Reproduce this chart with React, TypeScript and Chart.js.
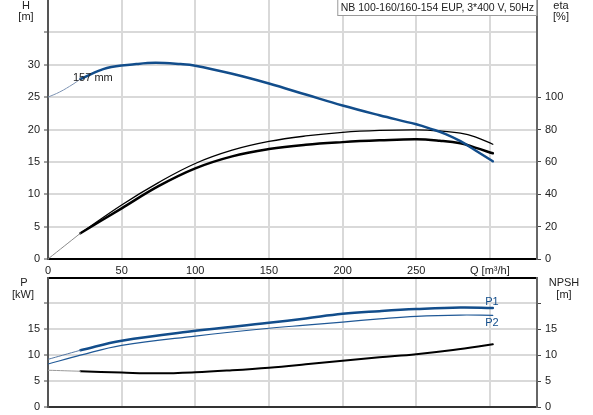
import React, { useEffect, useRef } from 'react';
import { Chart, registerables } from 'chart.js';
Chart.register(...registerables);

// ---- Top chart data (Q in m³/h) ----
const Q_H_START = [0, 8, 17, 22];
const H_START = [25, 25.8, 27.0, 27.8];
const Q_H = [22, 40, 60, 73, 90, 100, 125, 150, 175, 200, 225, 250, 260, 270, 280, 290, 302];
const H_VALUES = [27.8, 29.5, 30.1, 30.3, 30.1, 29.85, 28.6, 27.1, 25.4, 23.7, 22.2, 20.8, 20.1, 19.3, 18.2, 16.8, 15.1];

const Q_ETA_START = [0, 22];
const ETA_START = [0, 15.9];
const Q_ETA = [22, 50, 75, 100, 125, 150, 175, 200, 225, 250, 266, 280, 290, 302];
const ETA_UPPER = [15.9, 33.4, 47.2, 59, 67.2, 72.6, 76.0, 78.2, 79.4, 79.8, 79.1, 77.7, 75.4, 70.9];
const ETA_LOWER = [15.9, 31.3, 45, 56, 63.4, 67.9, 70.6, 72.2, 73.3, 74, 73.1, 71.5, 68.8, 65.3];

// ---- Bottom chart data ----
const Q_P1_START = [0, 10, 22];
const P1_START = [9.2, 10.0, 10.96];
const Q_P1 = [22, 50, 100, 150, 175, 200, 225, 250, 280, 302];
const P1_VALUES = [10.96, 12.8, 14.7, 16.25, 17.1, 18.0, 18.5, 18.9, 19.2, 19.1];
const Q_P2 = [0, 22, 50, 100, 150, 175, 200, 225, 250, 280, 302];
const P2_VALUES = [8.3, 10.0, 11.9, 13.7, 15.2, 15.8, 16.4, 17.0, 17.5, 17.75, 17.7];
const Q_NPSH_START = [0, 22];
const NPSH_START = [7.1, 6.9];
const Q_NPSH = [22, 50, 75, 100, 125, 150, 175, 200, 225, 250, 275, 302];
const NPSH_VALUES = [6.9, 6.65, 6.5, 6.7, 7.1, 7.6, 8.25, 8.95, 9.6, 10.2, 11.0, 12.1];

const X_MAX = 332;
const X_STEP = 50;
const Q_TITLE = 'Q [m³/h]';
const LEGEND_TEXT = 'NB 100-160/160-154 EUP, 3*400 V, 50Hz';
const CURVE_LABEL = '157 mm';

const FONT = '"Liberation Sans", Arial, sans-serif';
const TEXT = '#222';
const GRID = '#d9d9d9';
const BLUE = '#124d8b';
const BLUE_LIGHT = '#7d93b3';

const pts = (xs: number[], ys: number[]) => xs.map((x, i) => ({ x, y: ys[i] }));

const line = (data: any, color: string, width: number, yAxisID = 'y') => ({
  data,
  borderColor: color,
  borderWidth: width,
  pointRadius: 0,
  fill: false,
  tension: 0.4,
  yAxisID,
  borderCapStyle: 'round',
  borderJoinStyle: 'round',
});

const noPad = (s: any) => {
  s.paddingTop = 0;
  s.paddingBottom = 0;
  s.paddingLeft = 0;
  s.paddingRight = 0;
};

export default function App() {
  const topRef = useRef<HTMLCanvasElement>(null);
  const botRef = useRef<HTMLCanvasElement>(null);

  useEffect(() => {
    Chart.defaults.font.family = FONT;
    Chart.defaults.font.size = 11;
    Chart.defaults.color = TEXT;

    const topText = {
      id: 'topText',
      afterDraw(chart: any) {
        const ctx = chart.ctx;
        ctx.save();
        ctx.font = `11px ${FONT}`;
        ctx.fillStyle = TEXT;
        ctx.textBaseline = 'middle';
        ctx.textAlign = 'center';
        ctx.fillText('H', 26, 6);
        ctx.fillText('[m]', 26, 17);
        ctx.fillText('eta', 561, 6);
        ctx.fillText('[%]', 561, 17);
        ctx.textAlign = 'left';
        ctx.fillText(CURVE_LABEL, 73, 78);
        ctx.font = `10.5px ${FONT}`;
        const right = chart.chartArea.right - 0.5;
        const w = ctx.measureText(LEGEND_TEXT).width + 6;
        ctx.fillStyle = '#fff';
        ctx.fillRect(right - w, 0, w, 16);
        ctx.strokeStyle = '#9a9a9a';
        ctx.lineWidth = 1;
        ctx.strokeRect(right - w + 0.5, -0.5, w, 16);
        ctx.fillStyle = TEXT;
        ctx.fillText(LEGEND_TEXT, right - w + 3.5, 8);
        ctx.restore();
      },
    };

    const botText = {
      id: 'botText',
      afterDraw(chart: any) {
        const ctx = chart.ctx;
        ctx.save();
        ctx.font = `11px ${FONT}`;
        ctx.fillStyle = TEXT;
        ctx.textBaseline = 'middle';
        ctx.textAlign = 'center';
        ctx.fillText('P', 24, 13);
        ctx.fillText('[kW]', 23, 25);
        ctx.fillText('NPSH', 564, 13);
        ctx.fillText('[m]', 564, 25);
        ctx.fillStyle = BLUE;
        ctx.fillText('P1', 492, 32);
        ctx.fillText('P2', 492, 53);
        ctx.restore();
      },
    };

    const top = new Chart(topRef.current!, {
      type: 'line',
      data: {
        datasets: [
          line(pts(Q_H_START, H_START), BLUE_LIGHT, 1),
          line(pts(Q_H, H_VALUES), BLUE, 2.5),
          line(pts(Q_ETA_START, ETA_START), '#8a8a8a', 1, 'y2'),
          line(pts(Q_ETA, ETA_UPPER), '#000', 1.3, 'y2'),
          line(pts(Q_ETA, ETA_LOWER), '#000', 2.5, 'y2'),
        ] as any,
      },
      options: {
        responsive: false,
        animation: false,
        layout: { padding: 0 },
        plugins: { legend: { display: false }, tooltip: { enabled: false } },
        scales: {
          x: {
            type: 'linear',
            min: 0,
            max: X_MAX,
            grid: { color: GRID, lineWidth: 2, drawTicks: false },
            border: { color: '#000', width: 2 },
            ticks: {
              stepSize: X_STEP,
              includeBounds: false,
              padding: 5,
              maxRotation: 0,
              autoSkip: false,
              callback: (v: any) => (v === 300 ? Q_TITLE : String(v)),
            },
            afterFit: (s: any) => { s.height = 21; noPad(s); },
          },
          y: {
            type: 'linear',
            position: 'left',
            min: 0,
            max: 40,
            grid: { color: GRID, lineWidth: 2, tickColor: '#444', tickLength: 4, tickWidth: 1 },
            border: { color: '#555', width: 2 },
            ticks: {
              stepSize: 5,
              padding: 4,
              callback: (v: any) => (v <= 30 ? String(v) : ''),
            },
            afterBuildTicks: (s: any) => { s.ticks = s.ticks.filter((t: any) => t.value <= 35); },
            afterFit: (s: any) => { s.width = 48; noPad(s); },
          },
          y2: {
            type: 'linear',
            position: 'right',
            min: 0,
            max: 160,
            grid: { drawOnChartArea: false, tickColor: '#444', tickLength: 4, tickWidth: 1 },
            border: { color: '#666', width: 2 },
            ticks: { stepSize: 20, padding: 4 },
            afterBuildTicks: (s: any) => { s.ticks = s.ticks.filter((t: any) => t.value <= 100); },
            afterFit: (s: any) => { s.width = 56; noPad(s); },
          },
        },
      } as any,
      plugins: [topText],
    });

    const bot = new Chart(botRef.current!, {
      type: 'line',
      data: {
        datasets: [
          line(pts(Q_P1_START, P1_START), '#5577a3', 1),
          line(pts(Q_P1, P1_VALUES), BLUE, 2.5),
          line(pts(Q_P2, P2_VALUES), '#1f5896', 1.2),
          line(pts(Q_NPSH_START, NPSH_START), '#9a9a9a', 1),
          line(pts(Q_NPSH, NPSH_VALUES), '#000', 2),
        ] as any,
      },
      options: {
        responsive: false,
        animation: false,
        layout: { padding: { top: 7.5, left: 0, right: 0, bottom: 0 } },
        plugins: { legend: { display: false }, tooltip: { enabled: false } },
        scales: {
          x: {
            type: 'linear',
            min: 0,
            max: X_MAX,
            grid: { color: GRID, lineWidth: 2, drawTicks: false },
            border: { color: '#333', width: 2 },
            ticks: { display: false, stepSize: X_STEP, includeBounds: false },
            afterFit: (s: any) => { s.height = 8; noPad(s); },
          },
          xTop: {
            type: 'linear',
            position: 'top',
            min: 0,
            max: X_MAX,
            grid: { drawOnChartArea: false, drawTicks: false },
            border: { color: '#000', width: 2 },
            ticks: { display: false },
            afterFit: (s: any) => { s.height = 0; noPad(s); },
          },
          y: {
            type: 'linear',
            position: 'left',
            min: 0,
            max: 25,
            grid: { color: GRID, lineWidth: 2, tickColor: '#444', tickLength: 4, tickWidth: 1 },
            border: { color: '#555', width: 2 },
            ticks: { stepSize: 5, padding: 4, callback: (v: any) => (v <= 15 ? String(v) : '') },
            afterBuildTicks: (s: any) => { s.ticks = s.ticks.filter((t: any) => t.value <= 20); },
            afterFit: (s: any) => { s.width = 48; noPad(s); },
          },
          y2: {
            type: 'linear',
            position: 'right',
            min: 0,
            max: 25,
            grid: { drawOnChartArea: false, tickColor: '#444', tickLength: 4, tickWidth: 1 },
            border: { color: '#666', width: 2 },
            ticks: { stepSize: 5, padding: 4, callback: (v: any) => (v <= 15 ? String(v) : '') },
            afterBuildTicks: (s: any) => { s.ticks = s.ticks.filter((t: any) => t.value <= 20); },
            afterFit: (s: any) => { s.width = 56; noPad(s); },
          },
        },
      } as any,
      plugins: [botText],
    });

    return () => {
      top.destroy();
      bot.destroy();
    };
  }, []);

  return (
    <div style={{ position: 'fixed', left: 0, top: 0, width: 593, height: 415, background: '#fff' }}>
      <canvas ref={topRef} width={593} height={280} style={{ position: 'absolute', left: 0, top: 0 }} />
      <canvas ref={botRef} width={593} height={145} style={{ position: 'absolute', left: 0, top: 270 }} />
    </div>
  );
}
